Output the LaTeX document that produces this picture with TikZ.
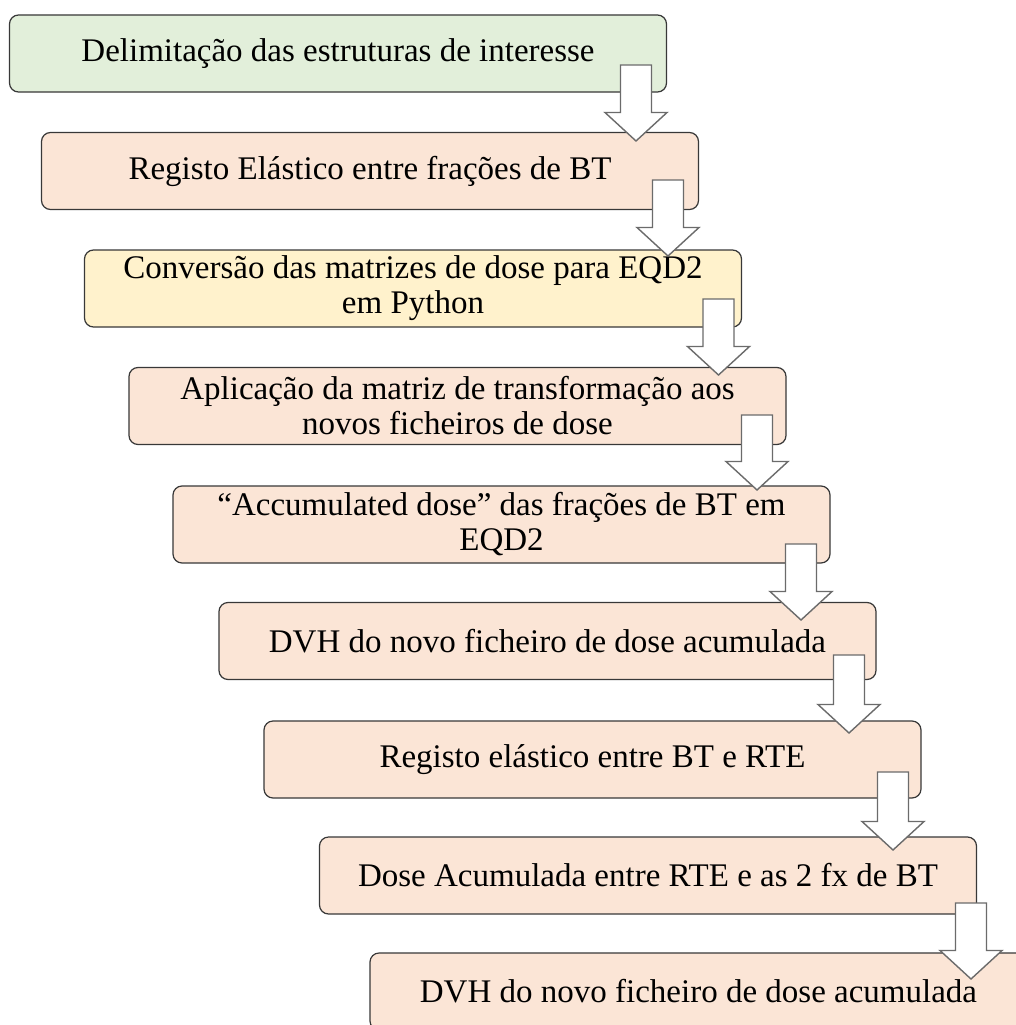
\documentclass[tikz,border=0pt]{standalone}
\usepackage{fontspec}
\setmainfont{Liberation Serif}
\usetikzlibrary{calc}

\definecolor{greenbox}{HTML}{E2EFDA}
\definecolor{peachbox}{HTML}{FBE5D6}
\definecolor{yellowbox}{HTML}{FFF2CC}

\tikzset{
  stepbox/.style={draw=black!78, line width=1.2pt, rounded corners=9pt,
    minimum width=657pt, minimum height=77pt, inner sep=0pt, align=center,
    font=\fontsize{33}{35}\selectfont},
  flowarrow/.style={draw=black!58, fill=white, line width=1.4pt, line join=miter}
}

% hollow block arrow from #1 (top of shaft) to #2 (tip)
\newcommand{\blockarrow}[2]{%
  \draw[flowarrow] let \p1=(#1), \p2=(#2) in
    (\x1-15.5,\y1) -- (\x1+15.5,\y1) -- (\x1+15.5,\y2+28.5) -- (\x1+31,\y2+28.5)
    -- (\x2,\y2) -- (\x1-31,\y2+28.5) -- (\x1-15.5,\y2+28.5) -- cycle;}

\begin{document}
\begin{tikzpicture}[x=1pt,y=-1pt]
\useasboundingbox (0,0) rectangle (1016,1025);
\clip (0,0) rectangle (1016,1025);
\fill[white] (0,0) rectangle (1016,1025);

\draw

(338,53.5) node[stepbox, fill=greenbox](delim){Delimitação das estruturas de interesse}
(370,171) node[stepbox, fill=peachbox](regbt){Registo Elástico entre frações de BT}
(413,288.5) node[stepbox, fill=yellowbox](conv){Conversão das matrizes de dose para EQD2\\em Python}
(457.5,406) node[stepbox, fill=peachbox](aplic){Aplicação da matriz de transformação aos\\novos ficheiros de dose}
(501.5,524.5) node[stepbox, fill=peachbox](accum){“Accumulated dose” das frações de BT em\\EQD2}
(547.5,641) node[stepbox, fill=peachbox](dvha){DVH do novo ficheiro de dose acumulada}
(592.5,759.5) node[stepbox, fill=peachbox](regrte){Registo elástico entre BT e RTE}
(648,875.5) node[stepbox, fill=peachbox](dosea){Dose Acumulada entre RTE e as 2 fx de BT}
(698.5,991.5) node[stepbox, fill=peachbox](dvhb){DVH do novo ficheiro de dose acumulada};


\foreach \i/\ax/\top/\tip in {1/636/65/141, 2/668/180/256, 3/718.5/299/375,
    4/757/415/490, 5/801/544/620, 6/849/655/733, 7/893/772/850, 8/971/903/979}{
  \coordinate (s\i) at (\ax,\top);
  \coordinate (e\i) at (\ax,\tip);
  \blockarrow{s\i}{e\i}
}


\end{tikzpicture}
\end{document}
